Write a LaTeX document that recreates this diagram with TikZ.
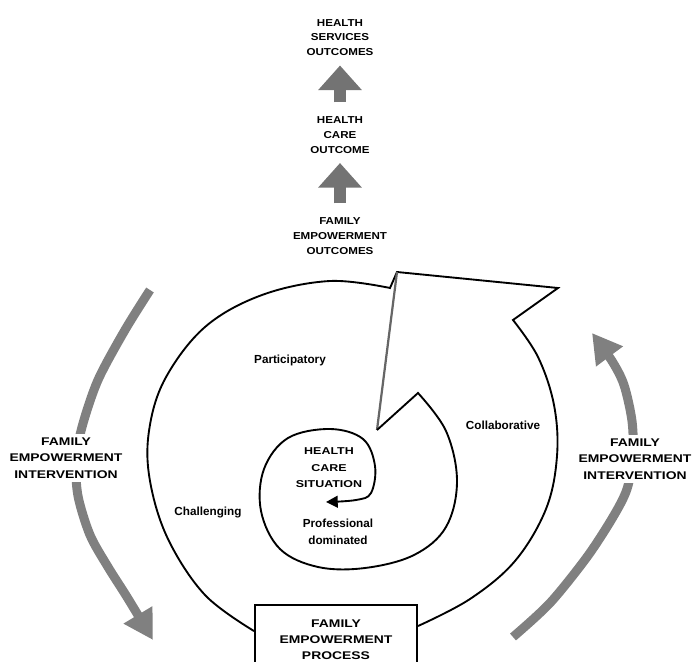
\documentclass[tikz,border=0pt]{standalone}
\usepackage{fontspec}
\setmainfont{Liberation Sans}
\newfontfamily\widefont[FakeStretch=1.25]{Liberation Sans}
\newfontfamily\topfont[FakeStretch=1.15]{Liberation Sans}
\usetikzlibrary{arrows.meta, calc}

\begin{document}
\begin{tikzpicture}[
  x=0.03cm, y=0.03cm,
  toplbl/.style={font=\topfont\bfseries\fontsize{8.6}{12.7}\selectfont,
    align=center, inner sep=0pt},
  sidelbl/.style={font=\widefont\bfseries\fontsize{9.5}{14}\selectfont,
    align=center, inner sep=3pt, fill=white},
  sitlbl/.style={font=\widefont\bfseries\fontsize{8.5}{14}\selectfont,
    align=center, inner sep=0pt},
  phaselbl/.style={font=\bfseries\fontsize{10}{14.5}\selectfont,
    align=center, inner sep=0pt},
  procbox/.style={draw, line width=1.6pt, minimum width=4.86cm,
    minimum height=2.1cm, align=center, inner sep=0pt,
    font=\widefont\bfseries\fontsize{9.5}{13.5}\selectfont},
  spiral/.style={line width=1.6pt},
  uparr/.style={draw=gray!90!black, line width=10.2pt,
    -{Triangle[width=36pt, length=21pt]},
    shorten <=12pt, shorten >=8pt},
  intarr/.style={draw=gray, line width=7.7pt,
    -{Triangle[width=27pt, length=25pt]}},
]

\useasboundingbox (0,0) rectangle (693,661);
\clip (0,0) rectangle (693,661);

% ---- Outcome chain ----
\node[toplbl] (hso) at (340,623.5) {HEALTH\\SERVICES\\OUTCOMES};
\node[toplbl] (hco) at (340,526) {HEALTH\\CARE\\OUTCOME};
\node[toplbl] (feo) at (340,425) {FAMILY\\EMPOWERMENT\\OUTCOMES};

\draw[uparr] (feo) -- (hco);
\draw[uparr] (hco) -- (hso);

% ---- Process box ----
\node[procbox] (fep) at (336,21) {FAMILY\\EMPOWERMENT\\PROCESS};

\coordinate (oL) at ($(fep.north west)+(0,-27)$);
\coordinate (oR) at ($(fep.north east)+(0,-22)$);

% ---- Outer spiral with arrow head ----
\draw[spiral] plot[smooth, tension=0.6] coordinates {(oL) (205,66)
    (168,122) (150,180) (149,230) (165,282) (205,334) (262,366)
    (330,380) (390,373)}
  -- (397,389) -- (558,373) -- (513,341)
  -- plot[smooth, tension=0.6] coordinates {(513,341) (538,304)
    (554,256) (557,205) (546,152) (515,100) (470,62) (oR)};

\draw[spiral, draw=gray!80!black, line width=1.9pt] (397,389) -- (377,231);

% ---- Inner spiral ----
\draw[spiral, -{Triangle[length=10pt, width=10pt]}] (377,231)
  -- plot[smooth, tension=0.6] coordinates {(418,268) (446,230)
    (457,180) (446,134) (414,106) (365,93) (318,94) (280,112) (261,150)
    (264,192) (288,223) (330,232) (363,222) (375,195) (371,168)
    (356,161) (326,159)};

% ---- Intervention arrows ----
\coordinate (lTop) at (150,371);
\coordinate (lTip) at (153,21);
\coordinate (rTail) at (513,24);
\coordinate (rTip) at (592,328);

\draw[intarr] plot[smooth] coordinates {(lTop) (125,331) (98,281)
    (82,234) (76,200) (78,165) (90,126) (108,94) (127,64) (lTip)};
\draw[intarr] plot[smooth] coordinates {(rTail) (550,58) (587,104)
    (613,144) (627,172) (633,205) (632,240) (624,276) (612,300) (rTip)};

\node[sidelbl] (lint) at (66,203) {FAMILY\\EMPOWERMENT\\INTERVENTION};
\node[sidelbl] (rint) at (635,202) {FAMILY\\EMPOWERMENT\\INTERVENTION};

% ---- Phase labels ----
\node[phaselbl] (part) at (290,301) {Participatory};
\node[phaselbl] (coll) at (503,236) {Collaborative};
\node[phaselbl] (chal) at (208,149) {Challenging};
\node[phaselbl] (prof) at (338,129.5) {Professional\\dominated};
\node[sitlbl] (hcs) at (329,193) {HEALTH\\CARE\\SITUATION};

\end{tikzpicture}
\end{document}
